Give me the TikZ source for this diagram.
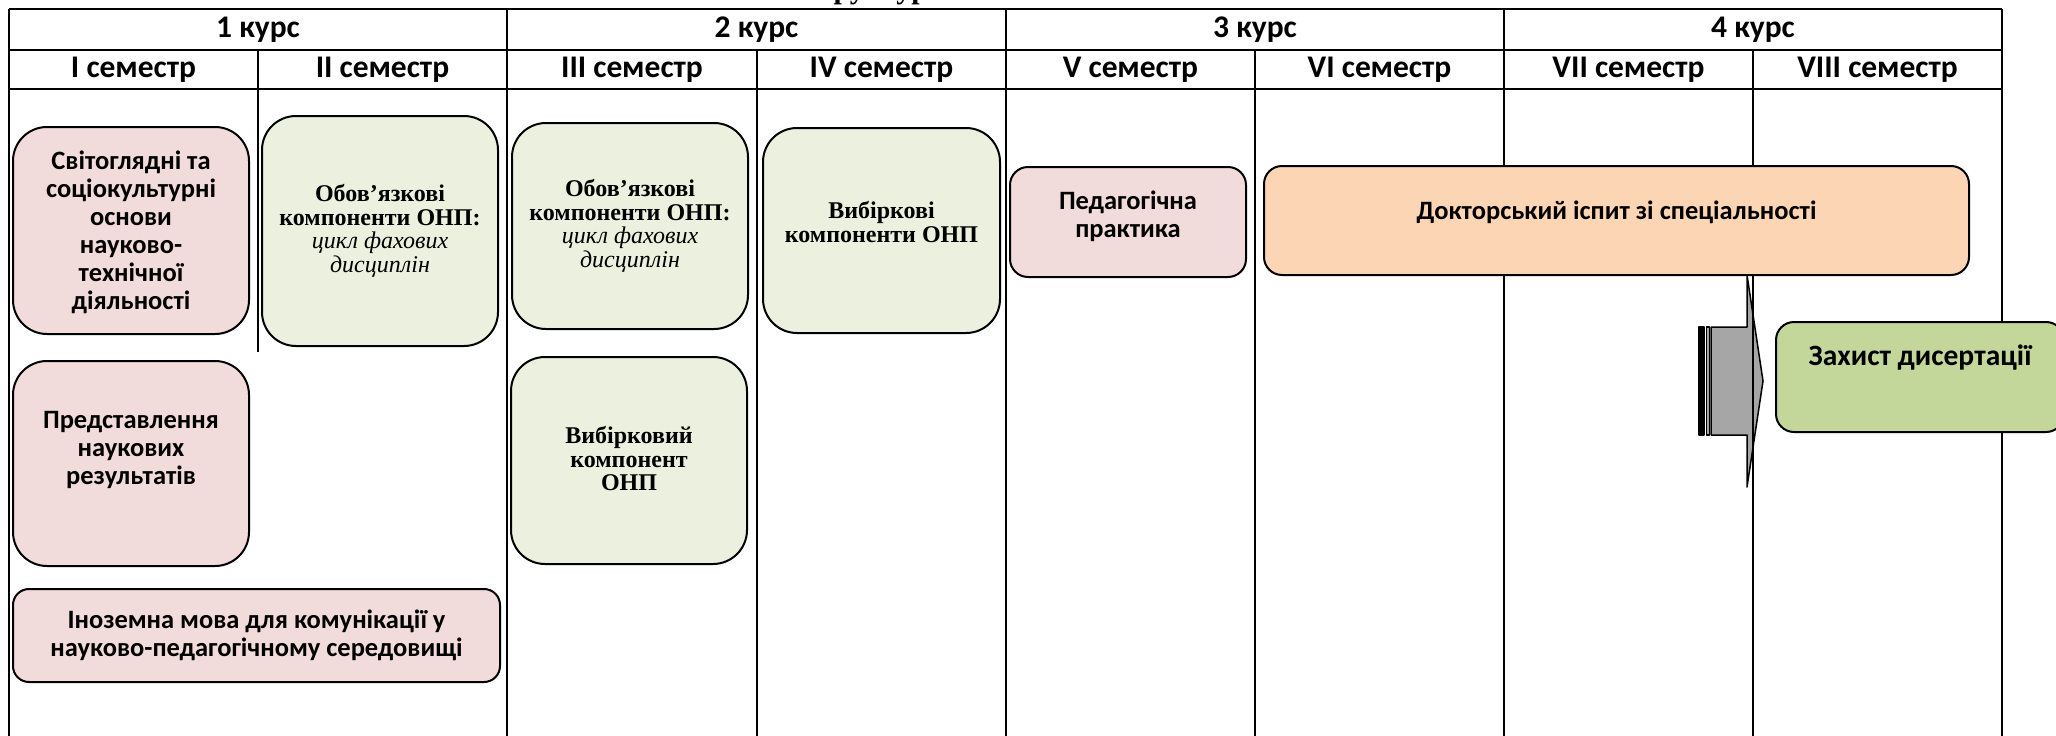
\documentclass[tikz,border=0pt]{standalone}
\usepackage{fontspec}
\setmainfont{Liberation Serif}
\newfontfamily\calib{Carlito}
\definecolor{pinkc}{HTML}{F2DCDB}
\definecolor{greenc}{HTML}{EBF1DE}
\definecolor{peachc}{HTML}{FCD5B4}
\definecolor{olivec}{HTML}{C4D79B}
\definecolor{grayc}{HTML}{A6A6A6}
\begin{document}
\begin{tikzpicture}[x=1pt,y=-1pt,line join=round,
  tline/.style={line width=2.2pt},
  rbox/.style={draw,line width=2pt,rounded corners=#1,inner sep=0pt},
  hdr/.style={font=\calib\bfseries\fontsize{31.5}{34}\selectfont,inner sep=0pt},
  stxt/.style={font=\calib\bfseries\fontsize{26.5}{28}\selectfont,align=center,inner sep=0pt},
  rtxt/.style={font=\bfseries\fontsize{24}{23.5}\selectfont,align=center,inner sep=0pt}]
\useasboundingbox (0,0) rectangle (2056,736);
% title (cut off at top, as in the reference)
\node[font=\bfseries\fontsize{30}{34}\selectfont,anchor=base west,inner sep=0pt] (title) at (797,-1.5) {Структура};
% striped arrow
\draw[line width=1.5pt,fill=black] (1699,327) rectangle (1704,435);
\draw[line width=1.5pt,fill=grayc] (1706.5,327) rectangle (1709.5,435);
\draw[line width=1.5pt,fill=grayc] (1711,327) -- (1747,327) -- (1747,275) -- (1763,381) -- (1747,487) -- (1747,435) -- (1711,435) -- cycle;
% table lines
\draw[tline] (9,9) -- (2002,9);
\draw[tline] (9,50) -- (2002,50);
\draw[tline] (9,89) -- (2002,89);
\draw[tline] (9,9) -- (9,736);
\draw[tline] (507,9) -- (507,736);
\draw[tline] (1006,9) -- (1006,736);
\draw[tline] (1504,9) -- (1504,736);
\draw[tline] (2002,9) -- (2002,736);
\draw[tline] (258,50) -- (258,352);
\draw[tline] (757,50) -- (757,736);
\draw[tline] (1255,50) -- (1255,736);
\draw[tline] (1753,50) -- (1753,736);
% header texts
\node[hdr] (k1) at (258,29.5) {1 курс};
\node[hdr] (k2) at (756.5,29.5) {2 курс};
\node[hdr] (k3) at (1255,29.5) {3 курс};
\node[hdr] (k4) at (1753,29.5) {4 курс};
\node[hdr] (s1) at (133.5,69.5) {I семестр};
\node[hdr] (s2) at (382.5,69.5) {II семестр};
\node[hdr] (s3) at (632,69.5) {III семестр};
\node[hdr] (s4) at (881.5,69.5) {IV семестр};
\node[hdr] (s5) at (1130.5,69.5) {V семестр};
\node[hdr] (s6) at (1379.5,69.5) {VI семестр};
\node[hdr] (s7) at (1628.5,69.5) {VII семестр};
\node[hdr] (s8) at (1877.5,69.5) {VIII семестр};
% boxes
\node[rbox=34pt,fill=pinkc,minimum width=236pt,minimum height=207pt] (sv) at (131,230.5) {};
\node[rbox=34pt,fill=greenc,minimum width=236pt,minimum height=230pt] (ob2) at (380,231) {};
\node[rbox=34pt,fill=greenc,minimum width=236pt,minimum height=206pt] (ob3) at (630,226) {};
\node[rbox=34pt,fill=greenc,minimum width=237pt,minimum height=205pt] (vyb4) at (881.5,230.5) {};
\node[rbox=34pt,fill=pinkc,minimum width=236pt,minimum height=205pt] (pred) at (131,463.5) {};
\node[rbox=34pt,fill=greenc,minimum width=236pt,minimum height=207pt] (vyb3) at (629,460.5) {};
\node[rbox=16pt,fill=pinkc,minimum width=487pt,minimum height=93pt] (inoz) at (256.5,635.5) {};
\node[rbox=18pt,fill=pinkc,minimum width=236pt,minimum height=110pt] (ped) at (1128,222) {};
\node[rbox=18pt,fill=peachc,minimum width=705pt,minimum height=109pt] (dokt) at (1616.5,220.5) {};
\node[rbox=18pt,fill=olivec,minimum width=288pt,minimum height=110pt] (zakh) at (1920,377) {};
% box texts
\node[stxt] (svt) at (131,232) {Світоглядні та\\соціокультурні\\основи\\науково-\\технічної\\діяльності};
\node[rtxt] (ob2t) at (380,231) {Обов’язкові\\компоненти ОНП:\\\normalfont\itshape\fontsize{24}{23.5}\selectfont цикл фахових\\\normalfont\itshape\fontsize{24}{23.5}\selectfont дисциплін};
\node[rtxt] (ob3t) at (630,226) {Обов’язкові\\компоненти ОНП:\\\normalfont\itshape\fontsize{24}{23.5}\selectfont цикл фахових\\\normalfont\itshape\fontsize{24}{23.5}\selectfont дисциплін};
\node[rtxt] (vyb4t) at (881.5,222) {Вибіркові\\компоненти ОНП};
\node[stxt] (predt) at (131,450) {Представлення\\наукових\\результатів};
\node[rtxt] (vyb3t) at (629,459) {Вибірковий\\компонент\\ОНП};
\node[stxt] (inozt) at (256.5,635) {Іноземна мова для комунікації у\\науково-педагогічному середовищі};
\node[stxt] (pedt) at (1128,216) {Педагогічна\\практика};
\node[stxt] (doktt) at (1616.5,212) {Докторський іспит зі спеціальності};
\node[stxt,font=\calib\bfseries\fontsize{29.5}{32}\selectfont] (zakht) at (1920,358) {Захист дисертації};
\end{tikzpicture}
\end{document}
